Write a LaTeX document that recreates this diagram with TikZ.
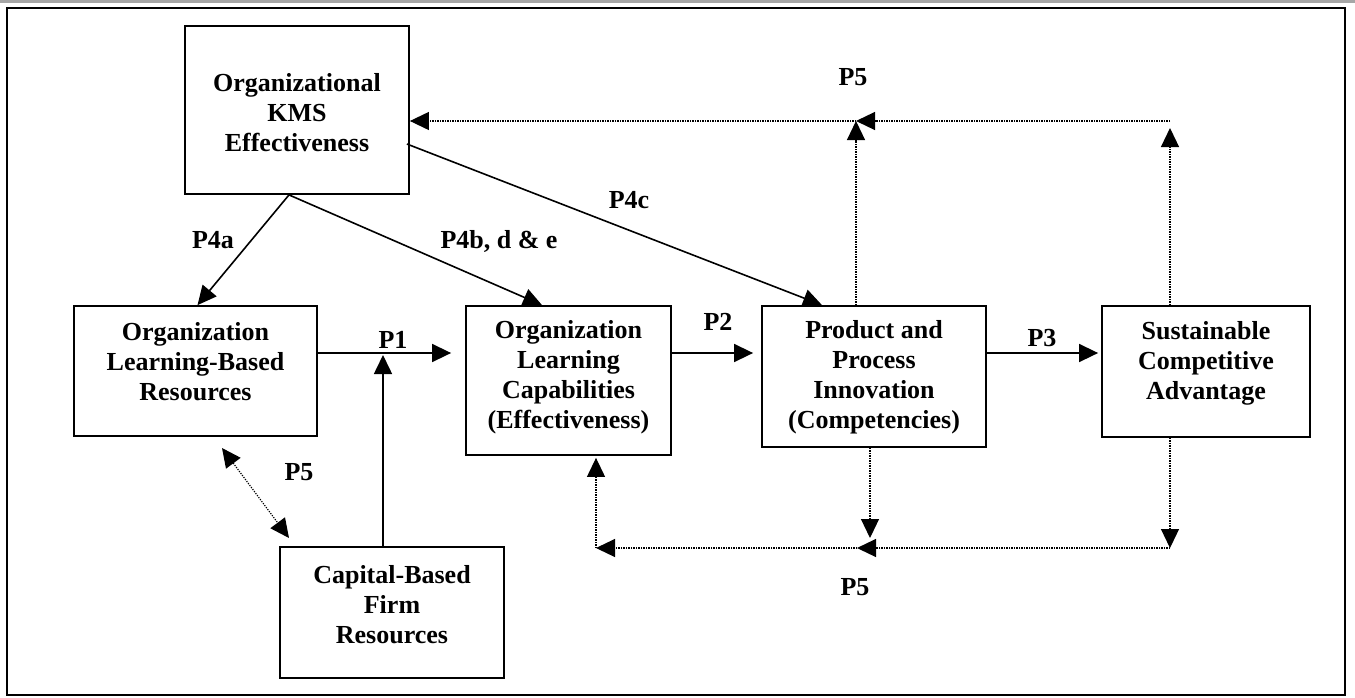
\documentclass[tikz,border=0pt]{standalone}
\usepackage{fontspec}
\setmainfont{Liberation Serif}
\usetikzlibrary{arrows.meta,calc}
\begin{document}
\begin{tikzpicture}[x=1pt,y=-1pt,
  box/.style={draw, line width=1.8pt, inner sep=0pt},
  txt/.style={font=\fontsize{26pt}{30pt}\selectfont\bfseries, align=center, inner sep=0pt},
  lbl/.style={font=\fontsize{26pt}{30pt}\selectfont\bfseries, inner sep=0pt, text height=17pt, text depth=0pt},
  arr/.style={line width=1.6pt, -{Triangle[length=19pt,width=18pt]}},
  dot/.style={line width=1.2pt, dash pattern=on 1.2pt off 1.3pt},
  darr/.style={dot, -{Triangle[length=19pt,width=18pt]}},
]
\useasboundingbox (0,0) rectangle (1355,697);
\draw[line width=3pt, gray!70] (0,1.5) -- (1355,1.5);
\draw[line width=1.8pt] (7,8) rectangle (1345,695);

% boxes
\node[box, minimum width=224pt, minimum height=168pt] (kms) at (297,110) {};
\node[box, minimum width=243pt, minimum height=130pt] (olr) at (195.5,371) {};
\node[box, minimum width=205pt, minimum height=149pt] (olc) at (568.5,380.5) {};
\node[box, minimum width=224pt, minimum height=141pt] (ppi) at (874,376.5) {};
\node[box, minimum width=208pt, minimum height=131pt] (sca) at (1206,371.5) {};
\node[box, minimum width=224pt, minimum height=131pt] (cbf) at (392,612.5) {};

% texts
\node[txt] (kmst) at (297,113) {Organizational\\KMS\\Effectiveness};
\node[txt] (olrt) at (195.5,362) {Organization\\Learning-Based\\Resources};
\node[txt] (olct) at (568.5,377.5) {Organization\\Learning\\Capabilities\\(Effectiveness)};
\node[txt] (ppit) at (874,377.5) {Product and\\Process\\Innovation\\(Competencies)};
\node[txt] (scat) at (1206,363) {Sustainable\\Competitive\\Advantage};
\node[txt] (cbft) at (392,604.5) {Capital-Based\\Firm\\Resources};

% solid arrows
\coordinate (row) at (0,353);
\coordinate (j1) at (383,355);
\draw[arr] (olr.east |- row) -- ($(olc.west |- row)+(-14,0)$);
\draw[arr] (cbf.north -| j1) -- (j1);
\draw[arr] (olc.east |- row) -- ($(ppi.west |- row)+(-8,0)$);
\draw[arr] (ppi.east |- row) -- ($(sca.west |- row)+(-3,0)$);
\draw[arr] ($(kms.south)+(-8,0)$) -- ($(olr.north)+(2,0)$);
\draw[arr] ($(kms.south)+(-8,0)$) -- ($(olc.north)+(-26.5,0)$);
\draw[arr] ($(kms.east)+(-3,34)$) -- ($(ppi.north)+(-52,0)$);

% top dotted loop
\coordinate (tA) at (1170,121);
\coordinate (tB) at (856,121);
\draw[darr] (sca.north -| tA) -- ($(tA)+(0,7)$);
\draw[darr] (ppi.north -| tB) -- (tB);
\draw[darr] (tA) -- (tB);
\draw[darr] (tB) -- (kms.east |- tB);

% bottom dotted loop
\coordinate (bA) at (1170,548);
\coordinate (bB) at (857,548);
\coordinate (bC) at (596,548);
\coordinate (bD) at (870,538);
\draw[darr] (sca.south -| bA) -- (bA);
\draw[darr] (ppi.south -| bD) -- (bD);
\draw[darr] (bA) -- (bB);
\draw[darr] (bB) -- (bC);
\draw[darr] (bC) -- ($(olc.south -| bC)+(0,2)$);

% two-way dotted
\coordinate (dA) at (222,448);
\coordinate (dB) at (289,538);
\draw[dot, {Triangle[length=19pt,width=18pt]}-{Triangle[length=19pt,width=18pt]}] (dA) -- (dB);

% labels
\node[lbl] (l4a) at (213,240) {P4a};
\node[lbl] (l4b) at (499,240) {P4b, d \& e};
\node[lbl] (l4c) at (629,200) {P4c};
\node[lbl] (l1) at (393,340) {P1};
\node[lbl] (l2) at (718,322) {P2};
\node[lbl] (l3) at (1042,338) {P3};
\node[lbl] (l5a) at (853,77) {P5};
\node[lbl] (l5b) at (299,472) {P5};
\node[lbl] (l5c) at (855,587) {P5};
\end{tikzpicture}
\end{document}
